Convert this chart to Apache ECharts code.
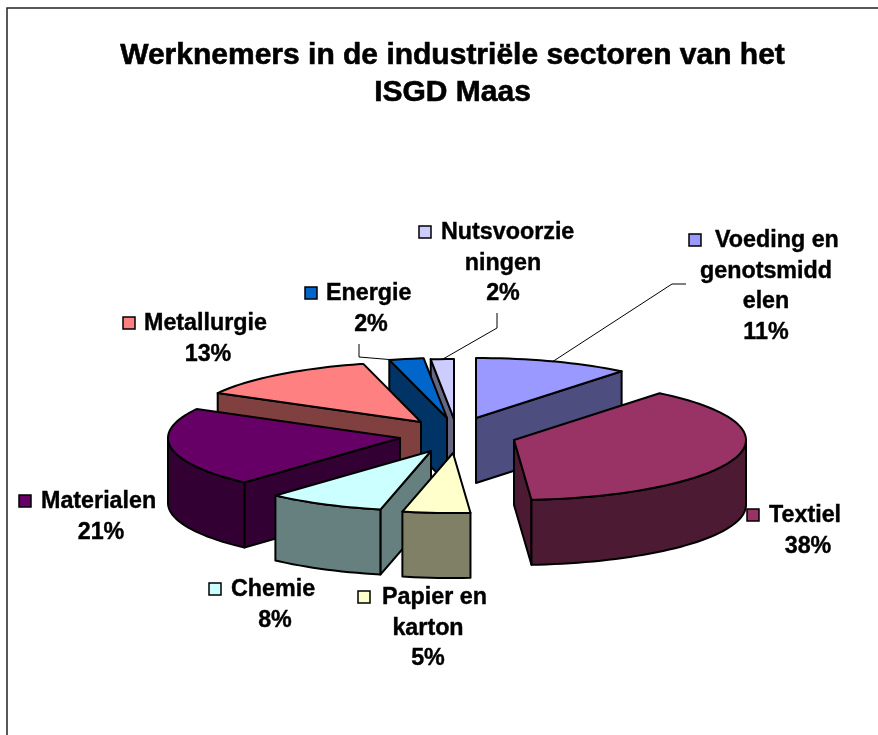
<!DOCTYPE html>
<html>
<head>
<meta charset="utf-8">
<style>html,body{margin:0;padding:0;background:#fff}#c{width:878px;height:735px}</style>
<script src="https://cdn.jsdelivr.net/npm/echarts@6/dist/echarts.min.js"></script>
</head>
<body>
<div id="c"></div>
<script>
// Data (clockwise from 12 o'clock)
const categories = ['Voeding en genotsmiddelen','Textiel','Papier en karton','Chemie','Materialen','Metallurgie','Energie','Nutsvoorzieningen'];
const values = [10.8, 38, 4.7, 8.2, 21.3, 13, 2.4, 1.6];
const labelLines = [['Voeding en','genotsmidd','elen'],['Textiel'],['Papier en','karton'],['Chemie'],['Materialen'],['Metallurgie'],['Energie'],['Nutsvoorzie','ningen']];
const titleText = 'Werknemers in de industriële sectoren van het\nISGD Maas';

// Style and layout
const topColors  = ['#9999FF','#993366','#FFFFCC','#CCFFFF','#660066','#FF8080','#0066CC','#CCCCFF'];
const sideColors = ['#4D4D80','#4D1A33','#808066','#668080','#330033','#804040','#003366','#666680'];
const center = [452, 434], rx = 232, ry = 60, depth = 65;
const explode = [[24,-16],[62,6],[1,19],[-21,17],[-52,4],[-31,-12],[-5,-16],[2,-15]];
const drawRank = [4,5,7,6,3,2,1,0];
const labelCenter = [[766,241],[808,516],[428,598],[275,590],[101,502],[208,324],[371,294],[503,233]];
const keyPos = [[695,240],[753,515],[364,597],[215,589],[25,501],[129,323],[311,293],[425,232]];
const labelTextX = [715,769,382,231,41,144,326,441];
const leaders = {0:[[552,362],[672,284],[686,284]], 6:[[359,344],[359,357],[395,360]], 7:[[443,359],[497,328],[497,313]]};
const lineH = 30.5, fontLabel = 'bold 23.3px "Liberation Sans", Arial, sans-serif';

const total = values.reduce((a,b)=>a+b,0);
function renderSlice(params, api){
  const i = params.dataIndex, v = api.value(0);
  let before = 0; for(let k=0;k<i;k++) before += values[k];
  const a0 = before/total*360, a1 = (before+v)/total*360;
  const ax = center[0]+explode[i][0], ay = center[1]+explode[i][1];
  const pt = (t,d)=>{const r=t*Math.PI/180; return [ax+rx*Math.sin(r), ay-ry*Math.cos(r)+(d||0)];};
  const stroke = {stroke:'#000', lineWidth:2, lineJoin:'round'};
  const z = drawRank[i]*10;
  const children = [];
  const mid = pt((a0+a1)/2);
  [a0,a1].forEach(t=>{
    const p = pt(t); let dx=p[0]-ax, dy=p[1]-ay; if(dx<0){dx=-dx;dy=-dy;}
    const cross = dx*(mid[1]-ay)-dy*(mid[0]-ax);
    if(cross<0 && Math.abs(dx)>0.5){
      children.push({type:'polygon', z2:z, shape:{points:[[ax,ay],p,[p[0],p[1]+depth],[ax,ay+depth]]}, style:Object.assign({fill:sideColors[i]},stroke)});
    }
  });
  const w0=Math.max(a0,90), w1=Math.min(a1,270);
  if(w1>w0){
    const up=[],down=[];
    for(let t=w0;;t+=2){const q=Math.min(t,w1); up.push(pt(q)); down.unshift(pt(q,depth)); if(q>=w1)break;}
    children.push({type:'polygon', z2:z+1, shape:{points:up.concat(down)}, style:Object.assign({fill:sideColors[i]},stroke)});
  }
  const top=[[ax,ay]];
  for(let t=a0;;t+=2){const q=Math.min(t,a1); top.push(pt(q)); if(q>=a1)break;}
  children.push({type:'polygon', z2:z+2, shape:{points:top}, style:Object.assign({fill:topColors[i]},stroke)});

  // label
  const lines = labelLines[i].concat([Math.round(v/total*100)+'%']);
  lines.forEach((l,n)=>{
    const y = labelCenter[i][1]+n*lineH;
    const style = {text:l, y:y, font:fontLabel, fill:'#000', stroke:'#000', lineWidth:0.4, textVerticalAlign:'middle'};
    if(n===0){style.x=labelTextX[i]; style.textAlign='left';}
    else {style.x=labelCenter[i][0]; style.textAlign='center';}
    children.push({type:'text', z2:200, style:style});
  });
  children.push({type:'rect', z2:200, shape:{x:keyPos[i][0]-6,y:keyPos[i][1]-6,width:12,height:12}, style:{fill:topColors[i],stroke:'#000',lineWidth:1.5}});
  if(leaders[i]) children.push({type:'polyline', z2:150, shape:{points:leaders[i]}, style:{fill:'none',stroke:'#000',lineWidth:1}});
  return {type:'group', children:children};
}

const chart = echarts.init(document.getElementById('c'), null, {renderer:'canvas', width:878, height:735});
chart.setOption({
  animation:false,
  backgroundColor:'#fff',
  title:{text:titleText, left:447.5, top:32, textAlign:'center', textStyle:{fontFamily:'"Liberation Sans", Arial, sans-serif', fontWeight:'bold', fontSize:30, lineHeight:37, color:'#000', textBorderColor:'#000', textBorderWidth:0.6}},
  graphic:[{type:'polyline', silent:true, shape:{points:[[7,735],[7,8],[878,8]]}, style:{fill:'none',stroke:'#222',lineWidth:1.5}}],
  series:[{type:'custom', coordinateSystem:'none', silent:true, renderItem:renderSlice, data:values.map((v,i)=>({name:categories[i], value:[v]}))}]
});
</script>
</body>
</html>
